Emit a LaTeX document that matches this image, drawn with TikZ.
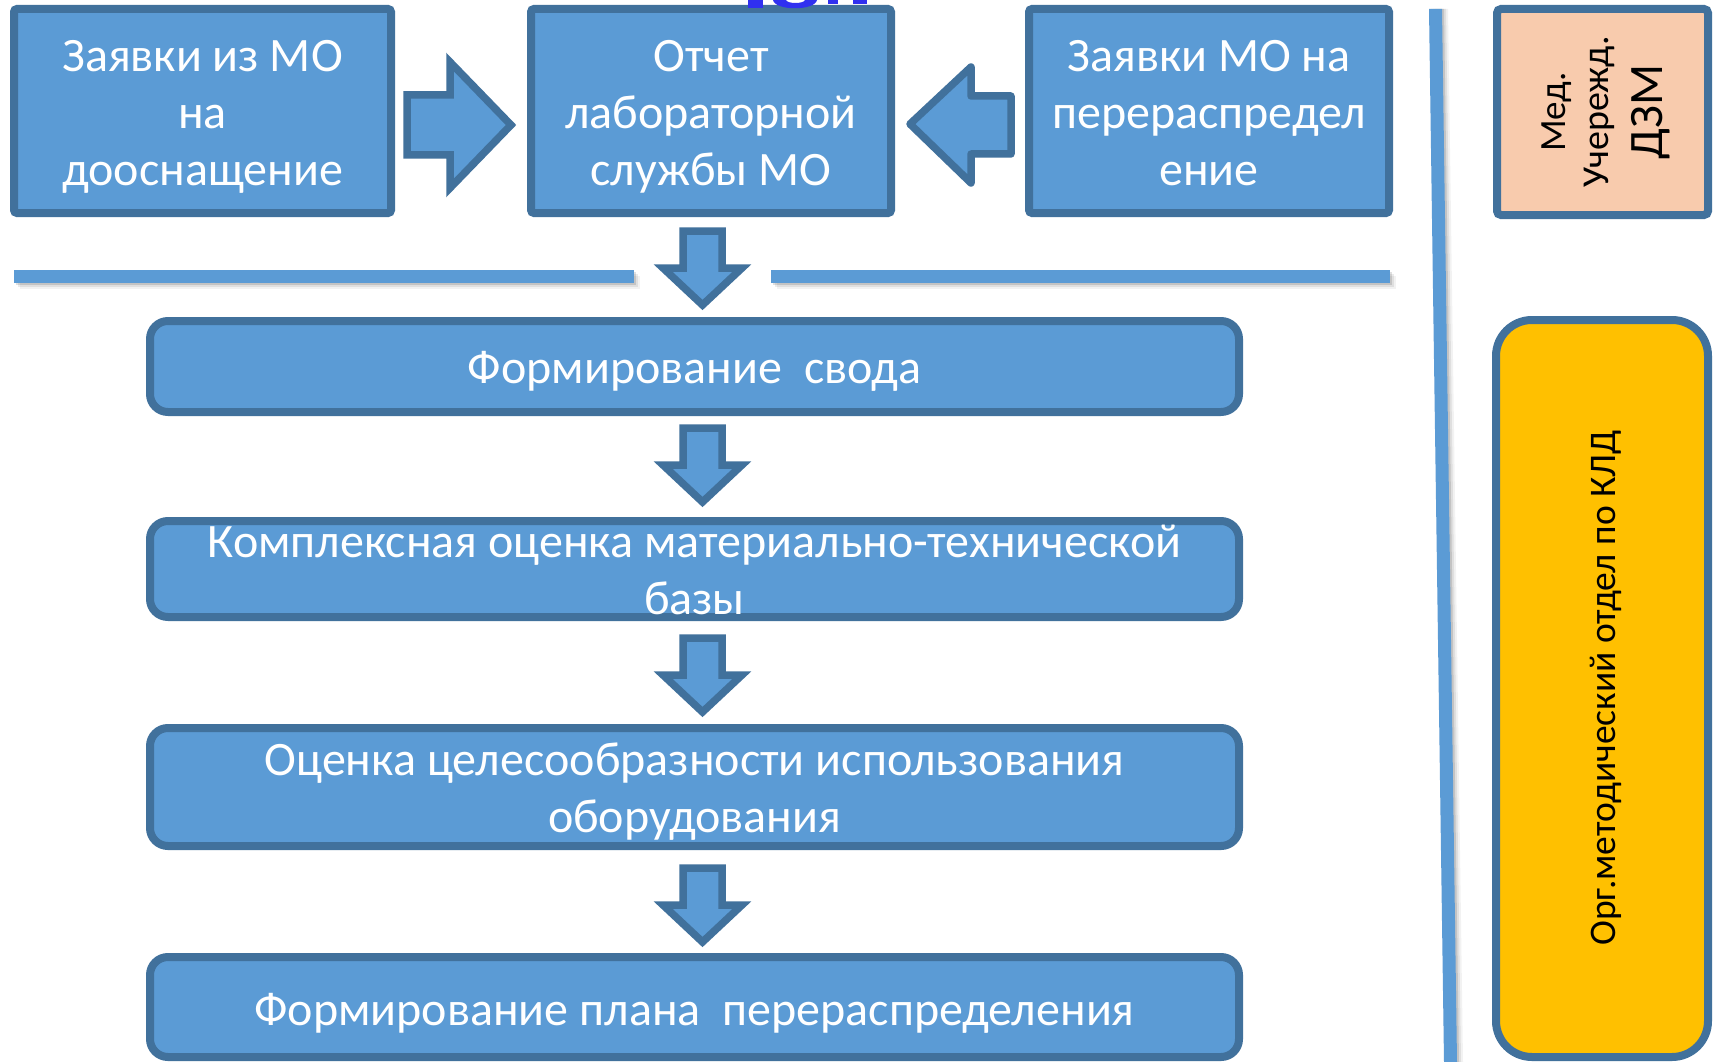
\documentclass[tikz,border=0pt]{standalone}
\usepackage{fontspec}
\setmainfont{Carlito}
\definecolor{fillblue}{HTML}{5B9BD5}
\definecolor{bdr}{HTML}{41719C}
\definecolor{peach}{HTML}{F8CBAD}
\definecolor{gold}{HTML}{FFC000}
\definecolor{titleblue}{HTML}{3030F0}
\begin{document}
\begin{tikzpicture}[x=1pt,y=-1pt,
  topbox/.style={draw=bdr, fill=fillblue, line width=8pt, inner sep=0pt, rounded corners=3pt},
  flowbox/.style={topbox, rounded corners=18pt},
  boxtext/.style={text=white, align=center, inner sep=0pt, font=\fontsize{48}{57}\selectfont},
  blockarrow/.style={draw=bdr, fill=fillblue, line width=7.5pt},
  bar/.style={fill=fillblue},
  rottext/.style={rotate=90, anchor=base, text=black, inner sep=0pt}
]
\useasboundingbox[fill=white] (0,0) rectangle (1714,1062);

% separator bars with shadow
\foreach \d/\o in {2/0.12,4/0.08,6/0.05}{
  \fill[black, opacity=\o] (14+\d,270+\d) rectangle (634+\d,283+\d);
  \fill[black, opacity=\o] (771+\d,270+\d) rectangle (1390+\d,283+\d);
  \fill[black, opacity=\o] (1429+\d,9) -- (1442+\d,9) -- (1457+\d,1062) -- (1444+\d,1062) -- cycle;
}
\fill[bar] (14,270) rectangle (634,283);
\fill[bar] (771,270) rectangle (1390,283);
\fill[bar] (1429,9) -- (1442,9) -- (1457,1062) -- (1444,1062) -- cycle;

% top boxes
\node[topbox, minimum width=377pt, minimum height=204pt] (req1) at (202.5,111) {};
\node[boxtext] (req1t) at (202.5,117) {\strut Заявки из МО\\на\\дооснащение\strut};
\node[topbox, minimum width=360pt, minimum height=204pt] (report) at (711,111) {};
\node[boxtext] (reportt) at (711,117) {\strut Отчет\\лабораторной\\службы МО\strut};
\node[topbox, minimum width=360pt, minimum height=204pt] (req2) at (1209,111) {};
\node[boxtext] (req2t) at (1209,117) {\strut Заявки МО на\\перераспредел\\ение\strut};

% cut-off title fragments
\fill[titleblue] (748,0) rectangle (763,8);
\fill[titleblue] (773,0) .. controls (775,11) and (815,11) .. (817,0) -- (805,0) .. controls (804,4) and (787,4) .. (786,0) -- cycle;
\fill[titleblue] (828,0) rectangle (838,4);
\fill[titleblue] (853,0) rectangle (867,4);

% side arrows
\draw[blockarrow, line join=miter] (407,95) -- (450,95) -- (450,62) -- (511,125) -- (450,188) -- (450,155) -- (407,155) -- cycle;
\draw[blockarrow, line join=round] (1011,96) -- (971,96) -- (971,67) -- (910,124) -- (971,183) -- (971,154) -- (1011,154) -- cycle;

% flow boxes
\node[flowbox, minimum width=1089pt, minimum height=91pt] (f1) at (694.5,366.5) {};
\node[boxtext] (f1t) at (694.5,372.5) {\strut Формирование~~свода\strut};
\node[flowbox, minimum width=1089pt, minimum height=96pt] (f2) at (694.5,569) {};
\node[boxtext] (f2t) at (694.5,575) {\strut Комплексная оценка материально-технической\\базы\strut};
\node[flowbox, minimum width=1089pt, minimum height=118pt] (f3) at (694.5,787) {};
\node[boxtext] (f3t) at (694.5,793) {\strut Оценка целесообразности использования\\оборудования\strut};
\node[flowbox, minimum width=1089pt, minimum height=100pt] (f4) at (694.5,1007) {};
\node[boxtext] (f4t) at (694.5,1014) {\strut Формирование плана~~перераспределения\strut};

% down arrows
\foreach \s in {0,197,407,637}{
  \draw[blockarrow, line join=miter, shift={(0,\s)}] (683,231) -- (722,231) -- (722,268) -- (742,268) -- (702.5,305) -- (663,268) -- (683,268) -- cycle;
}

% right column
\node[draw=bdr, fill=peach, line width=8pt, rounded corners=4pt, minimum width=211pt, minimum height=206pt] (dzm) at (1602.5,112) {};
\node[rottext, font=\fontsize{37}{44}\selectfont] (med1) at (1565,112) {Мед.};
\node[rottext, font=\fontsize{38}{44}\selectfont] (med2) at (1608,112) {Учережд.};
\node[rottext, font=\fontsize{48}{56}\selectfont] (med3) at (1662,112) {ДЗМ};

\node[draw=bdr, fill=gold, line width=8pt, rounded corners=36pt, minimum width=212pt, minimum height=737pt] (kld) at (1602,688.5) {};
\node[rottext, font=\fontsize{37.5}{44}\selectfont] (dept) at (1615,688) {Орг.методический отдел по КЛД};
\end{tikzpicture}
\end{document}
